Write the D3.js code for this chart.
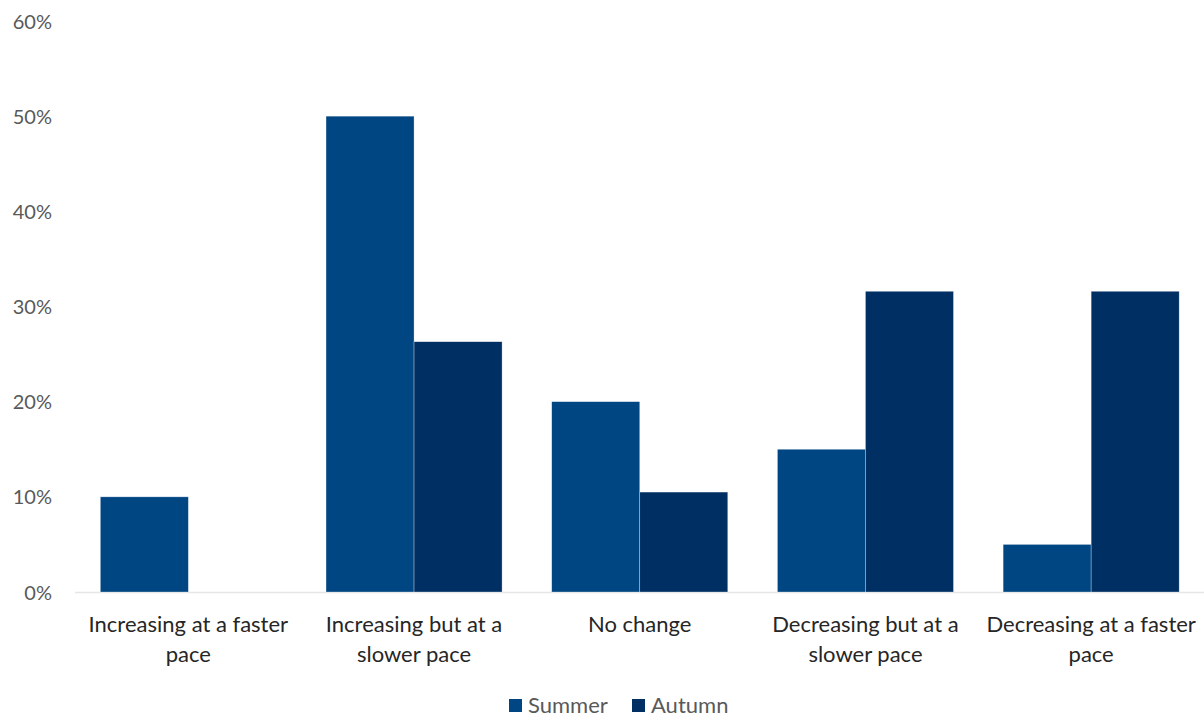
<!DOCTYPE html>
<html><head><meta charset="utf-8">
<script src="https://cdn.jsdelivr.net/npm/d3@7"></script>
<style>body{margin:0;background:#fff}</style>
</head><body>
<svg id="c" width="1204" height="717"></svg>
<script>
const categories = [["Increasing at a faster","pace"],["Increasing but at a","slower pace"],["No change"],["Decreasing but at a","slower pace"],["Decreasing at a faster","pace"]];
const seriesNames = ["Summer","Autumn"];
const summer = [0.10, 0.50, 0.20, 0.15, 0.05];
const autumn = [0.0, 0.263, 0.105, 0.316, 0.316];
const yTicks = [0,0.1,0.2,0.3,0.4,0.5,0.6];
const colors = ["#004682","#002f63"];

const svg = d3.select("#c");
const font = "Lato, 'Open Sans', sans-serif";
const x0 = d3.scaleBand().domain(d3.range(categories.length)).range([75.5,1204]).paddingInner(0.22).paddingOuter(0.11);
const x1 = d3.scaleBand().domain([0,1]).range([0,x0.bandwidth()]);
const y = d3.scaleLinear().domain([0,0.6]).range([592,21]);

svg.append("line").attr("x1",75).attr("x2",1204).attr("y1",y(0)+0.5).attr("y2",y(0)+0.5).attr("stroke","#e6e6e6").attr("stroke-width",1.5);

const series = [summer, autumn];
series.forEach((vals,si)=>{
  svg.append("g").selectAll("rect").data(vals).join("rect")
    .attr("x",(d,i)=>x0(i)+x1(si))
    .attr("y",d=>y(d))
    .attr("width",x1.bandwidth())
    .attr("height",d=>y(0)-y(d))
    .attr("fill",colors[si])
    .attr("stroke",d=>d>0?"#ffffff":"none").attr("stroke-width",0.6).attr("stroke-opacity",0.5);
});

const yAxis = d3.axisLeft(y).tickValues(yTicks).tickFormat(d3.format(".0%")).tickSize(0).tickPadding(0);
const ga = svg.append("g").attr("transform","translate(52,0)").call(yAxis);
ga.select(".domain").remove();
ga.selectAll("text").attr("font-family",font).attr("font-size",20).attr("fill","#595959").attr("dy","0.35em");

const gl = svg.append("g");
categories.forEach((lines,i)=>{
  const t = gl.append("text").attr("text-anchor","middle").attr("font-family",font).attr("font-size",22).attr("fill","#262626");
  lines.forEach((ln,j)=>{
    t.append("tspan").attr("x",x0(i)+x0.bandwidth()/2).attr("y",632+j*30).text(ln);
  });
});

const legX = [509,632];
seriesNames.forEach((n,i)=>{
  svg.append("rect").attr("x",legX[i]).attr("y",699).attr("width",13).attr("height",13).attr("fill",colors[i]);
  svg.append("text").attr("x",legX[i]+19).attr("y",713).attr("font-family",font).attr("font-size",22).attr("fill","#595959").text(n);
});
</script>
</body></html>
